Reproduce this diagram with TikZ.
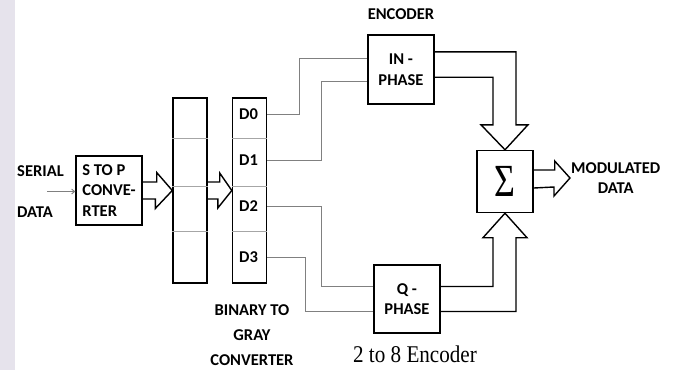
\documentclass[tikz,border=0pt]{standalone}
\usepackage{fontspec}
\setmainfont{Carlito}
\newfontfamily\encserif{Liberation Serif}
\usepackage{graphicx}
\usetikzlibrary{arrows.meta, positioning, calc}

\newcommand{\lblfont}{\fontsize{16.5}{20.5}\selectfont\bfseries}
\definecolor{stripcol}{RGB}{230,227,236}

\begin{document}
\begin{tikzpicture}[
    x=1pt, y=-1pt,
    lbl/.style={font=\lblfont, inner sep=1pt},
    box/.style={rectangle, draw, line width=1.4pt, align=center, font=\lblfont, inner sep=2pt},
    reg/.style={rectangle, draw, line width=1.4pt, minimum width=34pt, minimum height=185pt, inner sep=0pt},
    divider/.style={draw=gray!70, line width=0.8pt},
    wire/.style={draw=gray, line width=0.9pt},
    hollow/.style={draw, line width=1.4pt, line join=miter},
    thinarrow/.style={draw=gray, line width=0.9pt, -{Straight Barb[length=3pt, width=5pt]}}
]
    \useasboundingbox (0,0) rectangle (673,370);
    \fill[stripcol] (0,0) rectangle (15,370);

    % input side
    \node[lbl, anchor=west] (serial) at (16,171) {SERIAL};
    \node[lbl, anchor=west] (data) at (16,212) {DATA};
    \node[box, align=left, minimum width=66pt, minimum height=69pt] (stop) at (109,190.5) {S TO P\\CONVE-\\RTER};
    \coordinate (in) at (47,191.5);
    \draw[thinarrow] (in) -- (in -| stop.west);

    % registers
    \node[reg] (reg1) at (190,190.5) {};
    \node[reg] (reg2) at (249.5,190.5) {};
    \foreach \r in {reg1,reg2}
        \foreach \f in {0.22,0.48,0.72}
            \draw[divider] ($(\r.north west)!\f!(\r.south west)$) -- ($(\r.north east)!\f!(\r.south east)$);
    \node[lbl, anchor=west] (d0) at (238,114) {D0};
    \node[lbl, anchor=west] (d1) at (238,160) {D1};
    \node[lbl, anchor=west] (d2) at (238,206) {D2};
    \node[lbl, anchor=west] (d3) at (238,257.5) {D3};
    \node[lbl, align=center, font=\fontsize{16.5}{25}\selectfont\bfseries] (bgc) at (252,335) {BINARY TO\\GRAY\\CONVERTER};

    % encoders
    \node[box, minimum width=66pt, minimum height=69pt] (inph) at (401,69.5) {IN -\\PHASE};
    \node[lbl, above=13pt of inph] (enc) {ENCODER};
    \node[box, minimum width=66pt, minimum height=68pt] (qph) at (407,299) {Q -\\PHASE};
    \node[inner sep=1pt] (enc8) at (415,354) {\fontsize{24}{24}\selectfont\encserif\scalebox{0.88}[1]{2 to 8 Encoder}};

    % summer and output
    \node[box, minimum width=56pt, minimum height=62pt] (sum) at (505,181.5) {\fontsize{46}{46}\selectfont\mdseries\encserif\scalebox{0.78}[1]{Σ}};
    \node[lbl, align=center, anchor=west, font=\fontsize{16.5}{20}\selectfont\bfseries] (mod) at (570,178) {MODULATED\\DATA};

    % wires
    \draw[wire] (d0.east -| reg2.east) -- ++(32,0) |- ($(inph.north west)!0.34!(inph.south west)$);
    \draw[wire] (d1.east -| reg2.east) -- ++(54,0) |- ($(inph.north west)!0.67!(inph.south west)$);
    \draw[wire] (d2.east -| reg2.east) -- ++(54,0) |- ($(qph.north west)!0.32!(qph.south west)$);
    \draw[wire] (d3.east -| reg2.east) -- ++(38,0) |- ($(qph.north west)!0.68!(qph.south west)$);

    % hollow arrows
    \draw[hollow] ($(stop.east)+(0,-8.5)$) -- ++(14,0) -- ++(0,-9.5) -- (reg1.west) -- ++(-17,18) -- ++(0,-9.5) -- ($(stop.east)+(0,8.5)$);
    \draw[hollow] ($(reg1.east)+(0,-8.5)$) -- ++(12,0) -- ++(0,-9) -- (reg2.west) -- ++(-14,17.5) -- ++(0,-9) -- ($(reg1.east)+(0,8.5)$);
    \draw[hollow] ($(inph.north east)!0.25!(inph.south east)$) -| ($(sum.north)+(11,-25)$) -- ++(12,0) -- (sum.north) -- ++(-24,-25) -- ++(12,0) |- ($(inph.north east)!0.61!(inph.south east)$);
    \draw[hollow] ($(qph.north east)!0.32!(qph.south east)$) -| ($(sum.south)+(-12,24.5)$) -- ++(-10,0) -- (sum.south) -- ++(22,24.5) -- ++(-11,0) |- ($(qph.north east)!0.68!(qph.south east)$);
    \draw[hollow] ($(sum.east)+(0,-11.5)$) -- ++(21,0) -- ++(0,-9) -- (mod.west) -- ++(-16,18) -- ++(0,-9) -- ($(sum.east)+(0,6.5)$);
\end{tikzpicture}
\end{document}
